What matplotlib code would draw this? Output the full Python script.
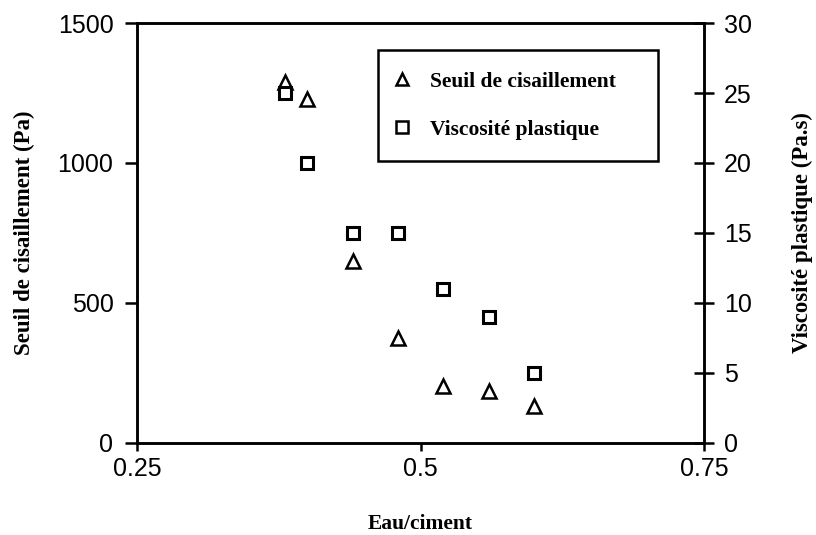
import matplotlib
matplotlib.use("Agg")
import matplotlib.pyplot as plt
from matplotlib.ticker import FixedLocator

# data
eau_ciment = [0.38, 0.40, 0.44, 0.48, 0.52, 0.56, 0.60]
seuil = [1290, 1230, 650, 375, 203, 185, 132]
viscosite = [25, 20, 15, 15, 11, 9, 5]

x_ticks = [0.25, 0.5, 0.75]
x_labels = ["0.25", "0.5", "0.75"]
left_ticks = [0, 500, 1000, 1500]
right_ticks = [0, 5, 10, 15, 20, 25, 30]

tick_font = {"family": "Liberation Sans", "size": 18}
label_font = {"family": "Liberation Serif", "weight": "bold", "size": 15.5}
ylabel_font = {"family": "Liberation Serif", "weight": "bold", "size": 16.5}

fig = plt.figure(figsize=(8.16, 5.35), dpi=100)
ax = fig.add_axes([0.168, 0.172, 0.695, 0.785])
ax2 = ax.twinx()

l1, = ax.plot(eau_ciment, seuil, linestyle="none", marker="^", markersize=10.5,
              markerfacecolor="white", markeredgecolor="black", markeredgewidth=1.8,
              label="Seuil de cisaillement")
l2, = ax2.plot(eau_ciment, viscosite, linestyle="none", marker="s", markersize=9,
               markerfacecolor="white", markeredgecolor="black", markeredgewidth=2.2,
               label="Viscosité plastique")

ax.set_xlim(0.25, 0.75)
ax.set_ylim(0, 1500)
ax2.set_ylim(0, 30)
ax.xaxis.set_major_locator(FixedLocator(x_ticks))
ax.set_xticklabels(x_labels, fontdict=tick_font)
ax.yaxis.set_major_locator(FixedLocator(left_ticks))
ax.set_yticklabels([str(t) for t in left_ticks], fontdict=tick_font)
ax2.yaxis.set_major_locator(FixedLocator(right_ticks))
ax2.set_yticklabels([str(t) for t in right_ticks], fontdict=tick_font)

for a in (ax, ax2):
    for s in a.spines.values():
        s.set_linewidth(1.8)
ax.tick_params(axis="x", direction="out", length=6, width=1.8, pad=4)
ax.tick_params(axis="y", direction="out", length=9, width=1.8, pad=8)
ax2.tick_params(axis="y", direction="inout", length=14, width=1.8, pad=7)

ax.set_xlabel("Eau/ciment", fontdict=label_font, labelpad=24)
ax.set_ylabel("Seuil de cisaillement (Pa)", fontdict=ylabel_font, labelpad=16)
ax2.set_ylabel("Viscosité plastique (Pa.s)", fontdict=ylabel_font, labelpad=29)

leg = ax2.legend(handles=[l1, l2], loc="upper left", mode="expand",
                 bbox_to_anchor=(0.425, 0.935 - 0.25, 0.494, 0.25),
                 prop={"family": "Liberation Serif", "weight": "bold", "size": 15.5},
                 frameon=True, fancybox=False, edgecolor="black", framealpha=1,
                 borderpad=1.0, labelspacing=1.3, handlelength=0.2,
                 handletextpad=1.2, borderaxespad=0)
leg.get_frame().set_linewidth(1.8)
for h in leg.legend_handles:
    h.set_markersize(9)
    h.set_markeredgewidth(1.8)

fig.savefig("out.png", dpi=100)
